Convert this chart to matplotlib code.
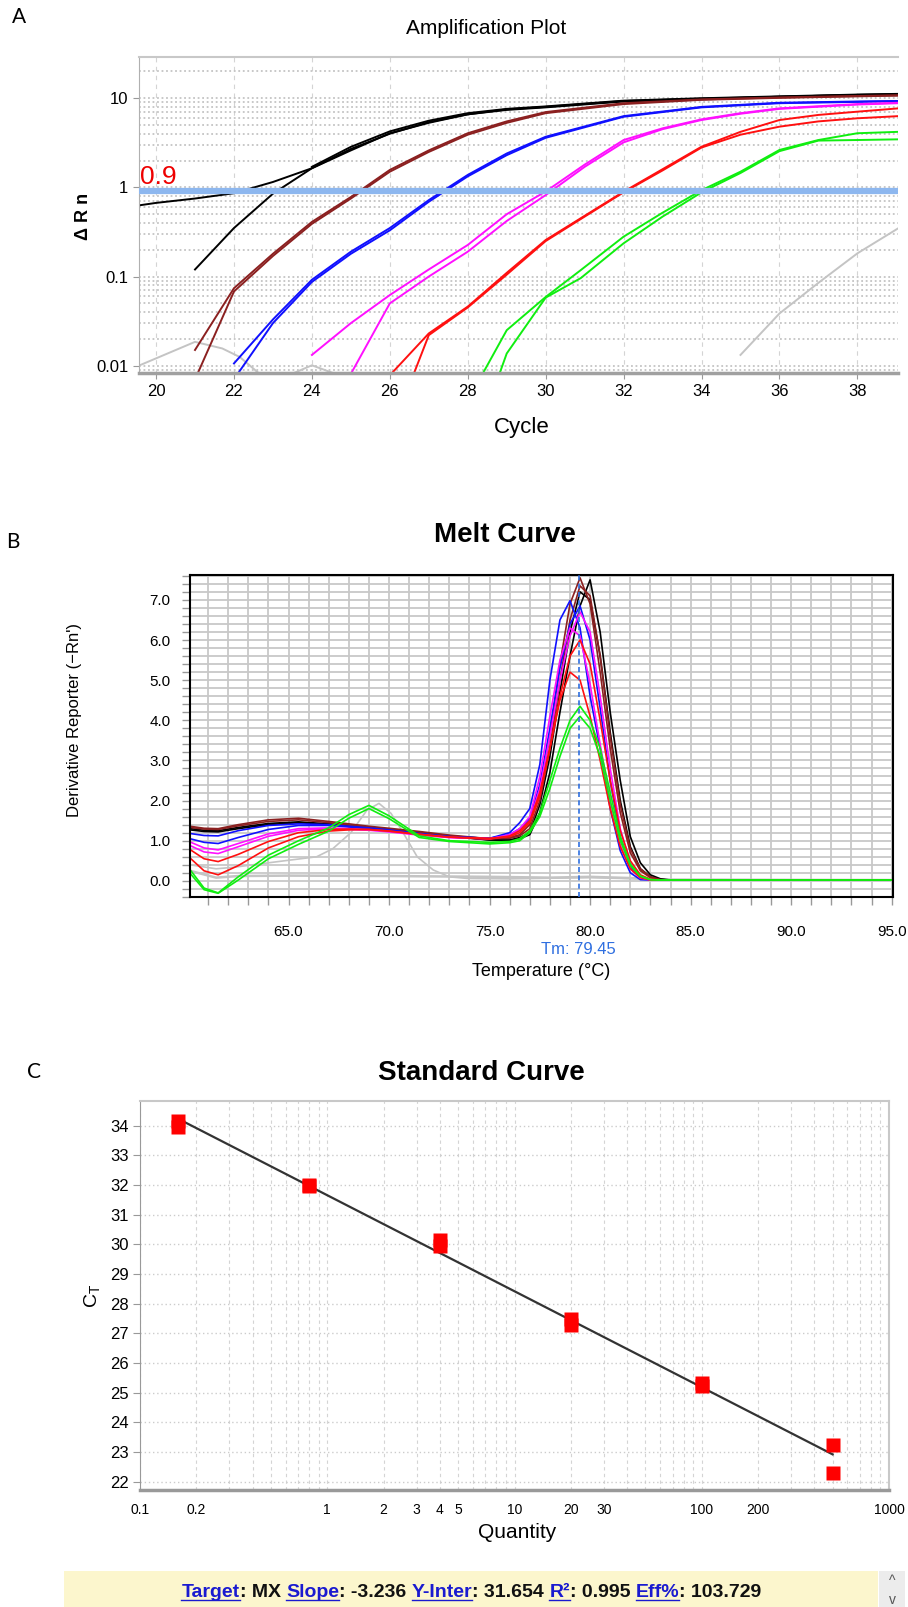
import numpy as np
import matplotlib
matplotlib.use("Agg")
import matplotlib.pyplot as plt
from matplotlib import font_manager
from matplotlib.lines import Line2D
from matplotlib.ticker import (FixedLocator, MultipleLocator, NullFormatter,
                               LogLocator, FormatStrFormatter, NullLocator)

# fonts: the picture uses squeezed text, so take a narrow face when there is one
names = {f.name for f in font_manager.fontManager.ttflist}
NARROW = 'Liberation Sans Narrow' if 'Liberation Sans Narrow' in names else 'Liberation Sans'
SANS = 'Liberation Sans'
plt.rcParams['font.family'] = [NARROW, 'DejaVu Sans']

W, H = 908, 1607
def fx(x): return x / W
def fy(y): return 1 - y / H

BLACK, BROWN, BLUE = '#000000', '#8b2020', '#1010ff'
MAGENTA, RED, GREEN, GRAY = '#ff10ff', '#ff1010', '#10ee10', '#c4c4c4'

################# A: amplification plot #################
amp_black1_c = [19.58, 20, 21, 22, 23, 24, 25, 26, 27, 28, 29, 30, 32, 34, 36, 38, 39.05]
amp_black1_v = [0.63, 0.67, 0.75, 0.86, 1.15, 1.64, 2.6, 4.05, 5.3, 6.6, 7.4, 7.9, 9.2, 9.8, 10.4, 10.9, 11.0]
amp_black2_c = [21, 22, 23, 24, 25, 26, 27, 28, 29, 30, 32, 34, 36, 38, 39.05]
amp_black2_v = [0.12, 0.35, 0.85, 1.64, 2.7, 4.0, 5.4, 6.6, 7.5, 8.0, 9.3, 9.9, 10.4, 10.9, 11.1]
amp_black3_c = [24, 25, 26, 27, 28, 29, 30, 32, 34, 36, 38, 39.05]
amp_black3_v = [1.7, 2.85, 4.25, 5.6, 6.8, 7.6, 8.1, 9.4, 10.0, 10.5, 11.0, 11.2]
amp_brown1_c = [21, 22, 23, 24, 25, 26, 27, 28, 29, 30, 32, 34, 36, 38, 39.05]
amp_brown1_v = [0.015, 0.074, 0.18, 0.41, 0.78, 1.57, 2.6, 4.05, 5.5, 7.0, 8.8, 9.7, 10.2, 10.6, 10.8]
amp_brown2_c = [21.03, 22, 23, 24, 25, 26, 27, 28, 29, 30, 32, 34, 36, 38, 39.05]
amp_brown2_v = [0.0075, 0.068, 0.17, 0.39, 0.75, 1.5, 2.5, 3.9, 5.3, 6.8, 8.6, 9.6, 10.1, 10.5, 10.7]
amp_blue1_c = [22, 23, 24, 25, 26, 27, 28, 29, 30, 32, 34, 36, 38, 39.05]
amp_blue1_v = [0.0106, 0.033, 0.092, 0.19, 0.35, 0.72, 1.38, 2.4, 3.7, 6.3, 8.0, 8.9, 9.2, 9.3]
amp_blue2_c = [22.07, 23, 24, 25, 26, 27, 28, 29, 30, 32, 34, 36, 38, 39.05]
amp_blue2_v = [0.0078, 0.03, 0.087, 0.18, 0.33, 0.69, 1.33, 2.3, 3.6, 6.2, 7.9, 8.8, 9.1, 9.3]
amp_mag1_c = [24, 25, 26, 27, 28, 29, 30, 31, 32, 33, 34, 35, 36, 38, 39.05]
amp_mag1_v = [0.0132, 0.03, 0.062, 0.12, 0.226, 0.5, 0.9, 1.8, 3.4, 4.6, 5.8, 6.8, 7.7, 8.6, 8.9]
amp_mag2_c = [24.98, 26, 27, 28, 29, 30, 31, 32, 33, 34, 35, 36, 38, 39.05]
amp_mag2_v = [0.0078, 0.05, 0.1, 0.19, 0.42, 0.82, 1.7, 3.2, 4.5, 5.7, 6.7, 7.6, 8.5, 8.8]
amp_red1_c = [26.0, 27, 28, 29, 30, 31, 32, 33, 34, 35, 36, 37, 38, 39.05]
amp_red1_v = [0.0078, 0.023, 0.046, 0.11, 0.257, 0.48, 0.895, 1.6, 2.86, 4.2, 5.7, 6.5, 7.07, 7.7]
amp_red2_c = [26.6, 27, 28, 29, 30, 31, 32, 33, 34, 35, 36, 37, 38, 39.05]
amp_red2_v = [0.0078, 0.022, 0.045, 0.105, 0.25, 0.47, 0.88, 1.55, 2.8, 3.9, 4.8, 5.5, 5.96, 6.3]
amp_green1_c = [28.36, 29, 30, 30.9, 32, 33, 34, 35, 36, 37, 38, 39.05]
amp_green1_v = [0.0078, 0.025, 0.059, 0.118, 0.28, 0.52, 0.93, 1.5, 2.63, 3.4, 4.05, 4.2]
amp_green2_c = [28.8, 29, 30, 30.9, 32, 33, 34, 35, 36, 37, 38, 39.05]
amp_green2_v = [0.0078, 0.0137, 0.058, 0.096, 0.236, 0.47, 0.88, 1.45, 2.55, 3.35, 3.4, 3.46]
amp_gray1_c = [35.0, 36, 37, 38, 39.05]
amp_gray1_v = [0.0132, 0.0385, 0.085, 0.182, 0.348]
amp_gray2_c = [19.58, 21, 21.7, 22.15, 22.7]
amp_gray2_v = [0.0101, 0.0185, 0.0156, 0.0125, 0.0078]
amp_gray3_c = [23.4, 24, 24.7]
amp_gray3_v = [0.0078, 0.0101, 0.0078]

threshold = 0.9
amp_xticks = [20, 22, 24, 26, 28, 30, 32, 34, 36, 38]
amp_yticks = [0.01, 0.1, 1, 10]
amp_ylabels = ['0.01', '0.1', '1', '10']

amp_curves = [
    (amp_gray2_c, amp_gray2_v, GRAY), (amp_gray3_c, amp_gray3_v, GRAY),
    (amp_gray1_c, amp_gray1_v, GRAY),
    (amp_black1_c, amp_black1_v, BLACK), (amp_black2_c, amp_black2_v, BLACK),
    (amp_black3_c, amp_black3_v, BLACK),
    (amp_brown1_c, amp_brown1_v, BROWN), (amp_brown2_c, amp_brown2_v, BROWN),
    (amp_blue1_c, amp_blue1_v, BLUE), (amp_blue2_c, amp_blue2_v, BLUE),
    (amp_mag1_c, amp_mag1_v, MAGENTA), (amp_mag2_c, amp_mag2_v, MAGENTA),
    (amp_red1_c, amp_red1_v, RED), (amp_red2_c, amp_red2_v, RED),
    (amp_green1_c, amp_green1_v, GREEN), (amp_green2_c, amp_green2_v, GREEN),
]

################# B: melt curve #################
melt_t = [60.1, 60.8, 61.5, 62.5, 64, 65.5, 67, 68, 69, 70, 71.5, 73, 75,
          76, 76.5, 77, 77.5, 78, 78.5, 79, 79.5, 80, 80.5, 81, 81.5, 82, 82.5, 83, 83.5, 84, 95]
melt_black1 = [1.30, 1.26, 1.25, 1.33, 1.43, 1.47, 1.42, 1.38, 1.33, 1.28, 1.19, 1.12, 1.02,
               1.0, 1.05, 1.15, 1.7, 2.7, 4.2, 5.6, 6.85, 7.5, 6.2, 4.2, 2.5, 1.1, 0.45, 0.15, 0.05, 0.02, 0.02]
melt_black2 = [1.27, 1.23, 1.22, 1.30, 1.40, 1.45, 1.40, 1.36, 1.31, 1.26, 1.18, 1.10, 1.02,
               1.02, 1.08, 1.2, 1.9, 3.1, 4.7, 6.2, 7.2, 7.0, 5.6, 3.7, 2.0, 0.85, 0.3, 0.1, 0.03, 0.02, 0.02]
melt_brown1 = [1.36, 1.31, 1.30, 1.40, 1.52, 1.56, 1.48, 1.42, 1.36, 1.31, 1.23, 1.14, 1.05,
               1.08, 1.15, 1.4, 2.2, 3.6, 5.4, 6.9, 7.55, 6.9, 5.2, 3.3, 1.7, 0.7, 0.25, 0.08, 0.02, 0.02, 0.02]
melt_brown2 = [1.33, 1.29, 1.28, 1.37, 1.48, 1.52, 1.45, 1.39, 1.33, 1.28, 1.21, 1.12, 1.05,
               1.06, 1.12, 1.3, 2.0, 3.3, 5.0, 6.5, 7.35, 7.1, 5.6, 3.6, 1.9, 0.8, 0.3, 0.1, 0.03, 0.02, 0.02]
melt_blue1 = [1.18, 1.13, 1.12, 1.25, 1.38, 1.42, 1.40, 1.36, 1.32, 1.27, 1.18, 1.10, 1.06,
              1.2, 1.45, 1.8, 2.9, 5.0, 6.5, 6.98, 6.3, 4.6, 3.3, 1.8, 0.75, 0.2, 0.03, 0.02, 0.02, 0.02, 0.02]
melt_blue2 = [1.05, 0.96, 0.93, 1.08, 1.28, 1.38, 1.38, 1.34, 1.30, 1.25, 1.17, 1.10, 1.06,
              1.15, 1.3, 1.55, 2.4, 3.8, 5.3, 6.4, 6.85, 6.0, 4.3, 2.5, 1.1, 0.35, 0.08, 0.02, 0.02, 0.02, 0.02]
melt_mag1 = [0.97, 0.82, 0.77, 0.93, 1.17, 1.30, 1.32, 1.30, 1.27, 1.23, 1.15, 1.08, 1.05,
             1.12, 1.25, 1.5, 2.3, 3.6, 5.0, 6.1, 6.7, 6.2, 4.6, 2.8, 1.3, 0.45, 0.12, 0.03, 0.02, 0.02, 0.02]
melt_mag2 = [0.88, 0.72, 0.68, 0.85, 1.11, 1.26, 1.30, 1.28, 1.26, 1.22, 1.14, 1.08, 1.05,
             1.15, 1.3, 1.6, 2.6, 4.1, 5.5, 6.3, 6.1, 4.9, 3.4, 2.0, 0.9, 0.3, 0.07, 0.02, 0.02, 0.02, 0.02]
melt_red1 = [0.78, 0.55, 0.48, 0.66, 0.98, 1.20, 1.28, 1.29, 1.28, 1.24, 1.16, 1.09, 1.06,
             1.1, 1.2, 1.45, 2.1, 3.3, 4.6, 5.6, 6.0, 5.4, 4.0, 2.5, 1.25, 0.5, 0.15, 0.04, 0.02, 0.02, 0.02]
melt_red2 = [0.57, 0.25, 0.15, 0.38, 0.82, 1.10, 1.24, 1.27, 1.28, 1.24, 1.16, 1.09, 1.04,
             1.12, 1.25, 1.5, 2.2, 3.3, 4.5, 5.2, 5.0, 4.1, 3.0, 1.8, 0.85, 0.3, 0.08, 0.02, 0.02, 0.02, 0.02]
melt_green1 = [0.28, -0.18, -0.30, 0.10, 0.64, 1.00, 1.32, 1.65, 1.88, 1.62, 1.12, 1.00, 0.96,
               0.98, 1.05, 1.25, 1.7, 2.5, 3.3, 4.0, 4.35, 4.0, 3.3, 2.2, 1.1, 0.42, 0.12, 0.03, 0.02, 0.02, 0.02]
melt_green2 = [0.19, -0.22, -0.31, 0.02, 0.55, 0.91, 1.24, 1.56, 1.80, 1.55, 1.08, 0.98, 0.92,
               0.95, 1.0, 1.2, 1.6, 2.3, 3.1, 3.8, 4.1, 3.8, 3.1, 2.0, 1.0, 0.38, 0.11, 0.03, 0.02, 0.02, 0.02]
melt_gray1_t = [60.1, 61.4, 62.3, 64.8, 66.4, 67.2, 68.1, 68.9, 69.5, 70.1, 70.7, 71.4, 72.2, 73.0, 73.9, 76, 80, 84, 95]
melt_gray1_v = [0.40, 0.30, 0.34, 0.5, 0.6, 0.8, 1.2, 1.76, 1.93, 1.68, 1.2, 0.6, 0.27, 0.1, 0.06, 0.05, 0.08, 0.03, 0.02]
melt_gray2_t = [60.1, 61.4, 62.5, 65, 70, 75, 78, 80, 82, 84, 95]
melt_gray2_v = [0.25, 0.08, 0.12, 0.13, 0.12, 0.1, 0.08, 0.1, 0.07, 0.03, 0.02]
tm_value = 79.45

melt_curves = [
    (melt_black1, BLACK), (melt_black2, BLACK), (melt_brown1, BROWN), (melt_brown2, BROWN),
    (melt_blue1, BLUE), (melt_blue2, BLUE), (melt_mag1, MAGENTA), (melt_mag2, MAGENTA),
    (melt_red1, RED), (melt_red2, RED), (melt_green1, GREEN), (melt_green2, GREEN),
]

################# C: standard curve #################
std_qty = [0.16, 0.16, 0.8, 0.8, 4, 4, 20, 20, 100, 100, 500, 500]
std_ct = [33.95, 34.15, 31.95, 32.0, 29.95, 30.15, 27.28, 27.48, 25.22, 25.32, 23.22, 22.3]
std_slope = -3.236
std_inter = 31.654
std_r2 = 0.995
std_eff = 103.729
std_xticks = [0.1, 0.2, 1, 2, 3, 4, 5, 10, 20, 30, 100, 200, 1000]
std_xlabels = ['0.1', '0.2', '1', '2', '3', '4', '5', '10', '20', '30', '100', '200', '1000']
std_yticks = list(range(22, 35))


fig = plt.figure(figsize=(W / 100, H / 100), dpi=100)

# ---------- A ----------
axA = fig.add_axes([fx(139.3), fy(372.7), (898.3 - 139.3) / W, (372.7 - 57.3) / H])
for c, v, col in amp_curves:
    axA.plot(c, v, color=col, lw=1.4)
axA.axhline(threshold, color='#8db7ef', lw=4.5, zorder=5)
axA.text(19.6, threshold * 1.06, '0.9', color='#ee0000', fontsize=19,
         va='bottom', ha='left', zorder=6)
axA.set_yscale('log')
axA.set_xlim(19.57, 39.05)
axA.set_ylim(0.00834, 28.8)
axA.set_xticks(amp_xticks)
axA.set_yticks(amp_yticks, amp_ylabels)
axA.yaxis.set_minor_locator(LogLocator(base=10, subs=np.arange(2, 10)))
axA.yaxis.set_minor_formatter(NullFormatter())
axA.tick_params(axis='y', which='minor', length=0)
axA.tick_params(which='major', length=4, color='#999999', labelsize=12, pad=4)
axA.yaxis.grid(True, which='both', color='#c4c4c4', lw=1.3, linestyle=(0, (1, 1.5)))
axA.xaxis.grid(True, which='major', color='#d4d4d4', lw=0.8, linestyle=(0, (4, 4)))
axA.spines['right'].set_visible(False)
axA.spines['top'].set_color('#c8c8c8')
axA.spines['top'].set_linewidth(1.5)
axA.spines['left'].set_color('#b0b0b0')
axA.spines['bottom'].set_color('#a0a0a0')
axA.spines['bottom'].set_linewidth(2.5)

fig.text(fx(19), fy(17), 'A', fontsize=15, family=['Lato', 'DejaVu Sans'], ha='center', va='center')
fig.text(fx(486), fy(29), 'Amplification Plot', fontsize=15, ha='center', va='center')
fig.text(fx(522), fy(428), 'Cycle', fontsize=16, ha='center', va='center')
fig.text(fx(84), fy(216), 'Δ R n', fontsize=13, fontweight='bold', rotation=90,
         ha='center', va='center')

# ---------- B ----------
axB = fig.add_axes([fx(190), fy(897.3), (893.3 - 190) / W, (897.3 - 575) / H])
axB.plot(melt_gray1_t, melt_gray1_v, color=GRAY, lw=1.2)
axB.plot(melt_gray2_t, melt_gray2_v, color=GRAY, lw=1.8)
for v, col in melt_curves:
    axB.plot(melt_t, v, color=col, lw=1.2)
axB.axvline(tm_value, color='#2f6fe0', lw=1.2, linestyle=(0, (3, 2)), zorder=6)
axB.set_xlim(60.1, 95.08)
axB.set_ylim(-0.41, 7.62)
axB.xaxis.set_major_locator(FixedLocator([65, 70, 75, 80, 85, 90, 95]))
axB.xaxis.set_minor_locator(MultipleLocator(1))
axB.xaxis.set_major_formatter(FormatStrFormatter('%.1f'))
axB.yaxis.set_major_locator(MultipleLocator(1))
axB.yaxis.set_minor_locator(MultipleLocator(0.2))
axB.yaxis.set_major_formatter(FormatStrFormatter('%.1f'))
axB.grid(True, which='both', color='#c8c8c8', lw=1.3)
axB.set_axisbelow(True)
axB.tick_params(which='both', length=6, color='#999999', width=1)
axB.tick_params(axis='x', which='major', pad=14)
axB.tick_params(axis='y', which='major', pad=8)
for lab in axB.get_xticklabels() + axB.get_yticklabels():
    lab.set_family([SANS, 'DejaVu Sans'])
    lab.set_fontsize(11)
for s in axB.spines.values():
    s.set_color('#000000')
    s.set_linewidth(1.5)

fig.text(fx(13), fy(542), 'B', fontsize=15, family=['Lato', 'DejaVu Sans'], ha='center', va='center')
fig.text(fx(505), fy(535), 'Melt Curve', fontsize=20, fontweight='bold', ha='center', va='center')
fig.text(fx(75), fy(720), "Derivative Reporter (\u2212Rn')", fontsize=12,
         family=[SANS, 'DejaVu Sans'], rotation=90, ha='center', va='center')
fig.text(fx(578), fy(950), 'Tm: %.2f' % tm_value, color='#2f6fe0', fontsize=12,
         ha='center', va='center')
fig.text(fx(541), fy(971), 'Temperature (°C)', fontsize=13, ha='center', va='center')

# ---------- C ----------
axC = fig.add_axes([fx(140), fy(1490), (889 - 140) / W, (1490 - 1100.7) / H])
q_line = np.array([min(std_qty), max(std_qty)])
axC.plot(q_line, std_inter + std_slope * np.log10(q_line), color='#333333', lw=1.6, zorder=3)
axC.plot(std_qty, std_ct, 's', color='#ff0000', ms=10, mec='none', zorder=4)
axC.set_xscale('log')
axC.set_xlim(0.1, 1000)
axC.set_ylim(21.72, 34.84)
axC.set_xticks(std_xticks, std_xlabels)
axC.xaxis.set_minor_locator(LogLocator(base=10, subs=np.arange(2, 10)))
axC.xaxis.set_minor_formatter(NullFormatter())
axC.set_yticks(std_yticks)
axC.yaxis.set_minor_locator(NullLocator())
axC.tick_params(axis='x', which='both', length=0, labelsize=10, pad=9)
axC.tick_params(axis='y', length=5, color='#999999', pad=3)
for lab in axC.get_yticklabels():
    lab.set_family([SANS, 'DejaVu Sans'])
    lab.set_fontsize(12)
axC.xaxis.grid(True, which='both', color='#d4d4d4', lw=0.8, linestyle=(0, (3, 3)))
axC.yaxis.grid(True, which='major', color='#cccccc', lw=1.0, linestyle=(0, (1, 2)))
axC.spines['top'].set_color('#c8c8c8')
axC.spines['right'].set_color('#c8c8c8')
axC.spines['top'].set_linewidth(1.5)
axC.spines['right'].set_linewidth(1.5)
axC.spines['left'].set_color('#999999')
axC.spines['bottom'].set_color('#999999')
axC.spines['bottom'].set_linewidth(2.5)

fig.text(fx(33.5), fy(1071.5), 'C', fontsize=15, family=['Lato', 'DejaVu Sans'], ha='center', va='center')
fig.text(fx(481), fy(1072.5), 'Standard Curve', fontsize=20, fontweight='bold', ha='center', va='center')
fig.text(fx(517), fy(1533), 'Quantity', fontsize=15, ha='center', va='center')
fig.text(fx(91.5), fy(1296), r'C$\mathregular{_T}$', fontsize=14, family=[SANS, 'DejaVu Sans'],
         rotation=90, ha='center', va='center')

# ---------- stats bar ----------
axBar = fig.add_axes([fx(64), 0, (878 - 64) / W, (H - 1570.7) / H])
axBar.set_facecolor('#fcf6cd')
axBar.set_xticks([])
axBar.set_yticks([])
for s in axBar.spines.values():
    s.set_visible(False)
axScr = fig.add_axes([fx(879), 0, 26 / W, (H - 1570.7) / H])
axScr.set_facecolor('#ececec')
axScr.set_xticks([])
axScr.set_yticks([])
for s in axScr.spines.values():
    s.set_visible(False)
axScr.text(0.5, 0.72, '^', transform=axScr.transAxes, ha='center', va='center', fontsize=10, color='#555555')
axScr.text(0.5, 0.2, 'v', transform=axScr.transAxes, ha='center', va='center', fontsize=10, color='#555555')

LINK = '#1a1ad0'
bar_parts = [('Target', True), (': MX', False), ('Slope', True), (': %.3f' % std_slope, False),
             ('Y-Inter', True), (': %.3f' % std_inter, False), ('R²', True),
             (': %.3f' % std_r2, False), ('Eff%', True), (': %.3f' % std_eff, False)]
renderer = fig.canvas.get_renderer()
base_y = fy(1597)
probe1 = fig.text(0, 0, 'a a', fontsize=14, fontweight='bold')
probe2 = fig.text(0, 0, 'aa', fontsize=14, fontweight='bold')
space_w = probe1.get_window_extent(renderer).width - probe2.get_window_extent(renderer).width
probe1.remove()
probe2.remove()

bar_texts = []
for i, (s, link) in enumerate(bar_parts):
    t = fig.text(0, base_y, s, fontsize=14, fontweight='bold', va='baseline', ha='left',
                 color=LINK if link else '#111111')
    bar_texts.append((t, link))
widths = [t.get_window_extent(renderer).width for t, _ in bar_texts]
gaps = [space_w if (link and i > 0) else 0 for i, (_, link) in enumerate(bar_texts)]
total = sum(widths) + sum(gaps)
x = 471.5 - total / 2
for (t, link), w, g in zip(bar_texts, widths, gaps):
    x += g
    t.set_x(x / W)
    if link:
        fig.add_artist(Line2D([x / W, (x + w) / W], [base_y - 2.5 / H, base_y - 2.5 / H],
                              transform=fig.transFigure, color=LINK, lw=1))
    x += w

fig.savefig('out.png', dpi=100)
